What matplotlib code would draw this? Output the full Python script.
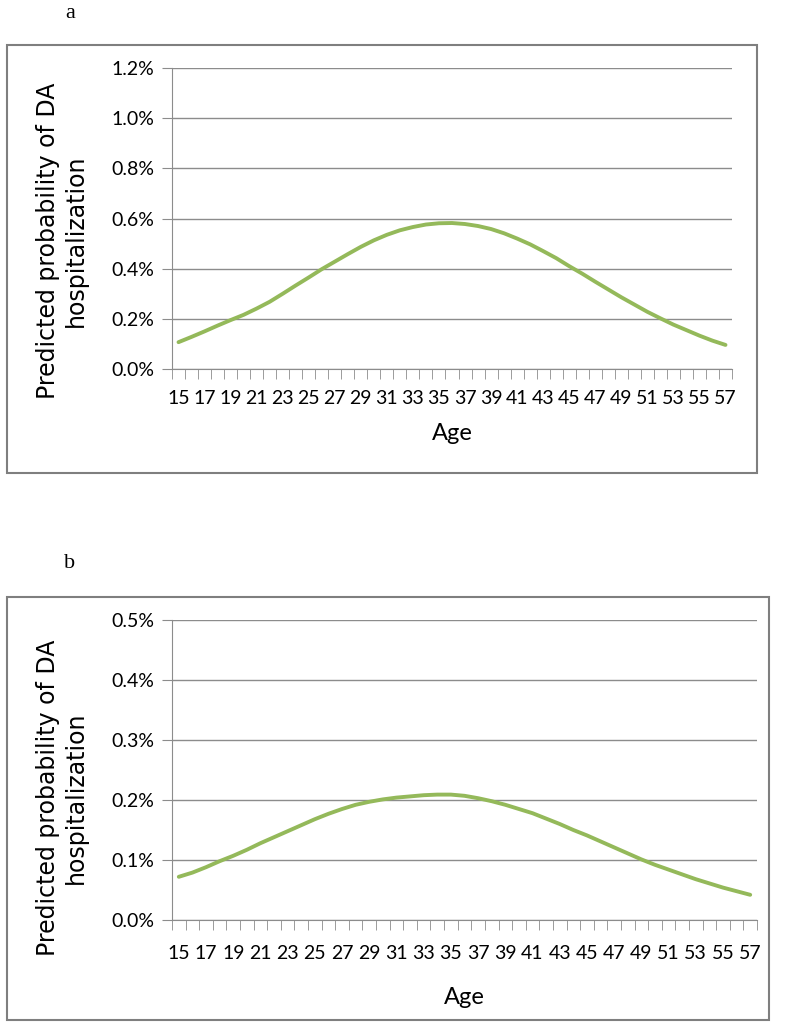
import matplotlib
matplotlib.use("Agg")
import matplotlib.pyplot as plt
import matplotlib.ticker as mtick
from matplotlib import font_manager
from matplotlib.patches import Rectangle
import numpy as np

# Ages on the category axis
ages = list(range(15, 58))

# Panel a: predicted probability (%)
prob_a = [0.107, 0.128, 0.150, 0.173, 0.195, 0.216, 0.241, 0.268, 0.300, 0.333,
          0.365, 0.398, 0.428, 0.458, 0.487, 0.513, 0.535, 0.553, 0.566, 0.576,
          0.581, 0.582, 0.578, 0.570, 0.558, 0.541, 0.520, 0.497, 0.470, 0.442,
          0.410, 0.380, 0.348, 0.317, 0.286, 0.257, 0.228, 0.202, 0.177, 0.155,
          0.133, 0.113, 0.096]

# Panel b: predicted probability (%)
prob_b = [0.072, 0.079, 0.088, 0.098, 0.107, 0.117, 0.128, 0.138, 0.148, 0.158,
          0.168, 0.177, 0.185, 0.192, 0.197, 0.201, 0.204, 0.206, 0.208, 0.209,
          0.209, 0.207, 0.203, 0.198, 0.192, 0.185, 0.178, 0.169, 0.160, 0.150,
          0.141, 0.131, 0.121, 0.111, 0.101, 0.092, 0.084, 0.076, 0.068, 0.061,
          0.054, 0.048, 0.042]

yticks_a = [0.0, 0.2, 0.4, 0.6, 0.8, 1.0, 1.2]
yticks_b = [0.0, 0.1, 0.2, 0.3, 0.4, 0.5]

W, H = 790, 1028
GREEN = "#94b95a"
GRID = "#8c8c8c"
installed = {f.name for f in font_manager.fontManager.ttflist}
TICKFONT = [f for f in ["Lato", "Liberation Sans", "DejaVu Sans"] if f in installed] or ["DejaVu Sans"]

fig = plt.figure(figsize=(W / 100, H / 100), dpi=100)


def px_rect(x0, y0, x1, y1):
    return [x0 / W, 1 - y1 / H, (x1 - x0) / W, (y1 - y0) / H]


def panel(letter, letter_y, box, axbox, vals, yticks, ylab_y, age_y, lab_pad):
    bx0, by0, bx1, by1 = box
    fig.patches.append(Rectangle((bx0 / W, 1 - by1 / H), (bx1 - bx0) / W, (by1 - by0) / H,
                                 transform=fig.transFigure, fill=False,
                                 edgecolor="#7f7f7f", linewidth=1.5))
    fig.text(70 / W, 1 - letter_y / H, letter, family="Liberation Serif",
             fontsize=16, ha="center", va="center")

    ax = fig.add_axes(px_rect(*axbox))
    x = np.arange(len(ages))
    ax.plot(x, vals, color=GREEN, linewidth=2.8, solid_capstyle="round")

    ax.set_xlim(-0.5, len(ages) - 0.5)
    ax.set_ylim(yticks[0], yticks[-1])
    ax.set_yticks(yticks)
    ax.yaxis.set_major_formatter(mtick.FuncFormatter(lambda v, p: f"{v:.1f}%"))
    ax.grid(axis="y", color=GRID, linewidth=1)
    ax.set_axisbelow(True)

    ax.set_xticks(x[::2])
    ax.set_xticklabels([str(a) for a in ages[::2]])
    ax.set_xticks(np.arange(-0.5, len(ages)), minor=True)
    ax.tick_params(axis="x", which="major", length=0, pad=lab_pad)
    ax.tick_params(axis="x", which="minor", length=7, color=GRID, direction="out")
    ax.tick_params(axis="y", length=7, color=GRID, pad=6)
    for lbl in ax.get_xticklabels() + ax.get_yticklabels():
        lbl.set_family(TICKFONT)
        lbl.set_fontsize(14)

    for s in ["top", "right"]:
        ax.spines[s].set_visible(False)
    for s in ["left", "bottom"]:
        ax.spines[s].set_color(GRID)

    fig.text(62 / W, 1 - ylab_y / H, "Predicted probability of DA\nhospitalization",
             rotation=90, ha="center", va="center", multialignment="center",
             fontsize=17, linespacing=1.25)
    ax_mid = (axbox[0] + axbox[2]) / 2
    fig.text(ax_mid / W, 1 - age_y / H, "Age", family=TICKFONT, fontsize=17,
             ha="center", va="center")
    return ax


panel("a", 13, (7, 45, 757, 473), (172, 68, 732, 369), prob_a, yticks_a, 241, 433, 15)
panel("b", 564, (7, 597, 769, 1020), (172, 620, 757, 920), prob_b, yticks_b, 798, 998, 18)

fig.savefig("out.png", dpi=100)
